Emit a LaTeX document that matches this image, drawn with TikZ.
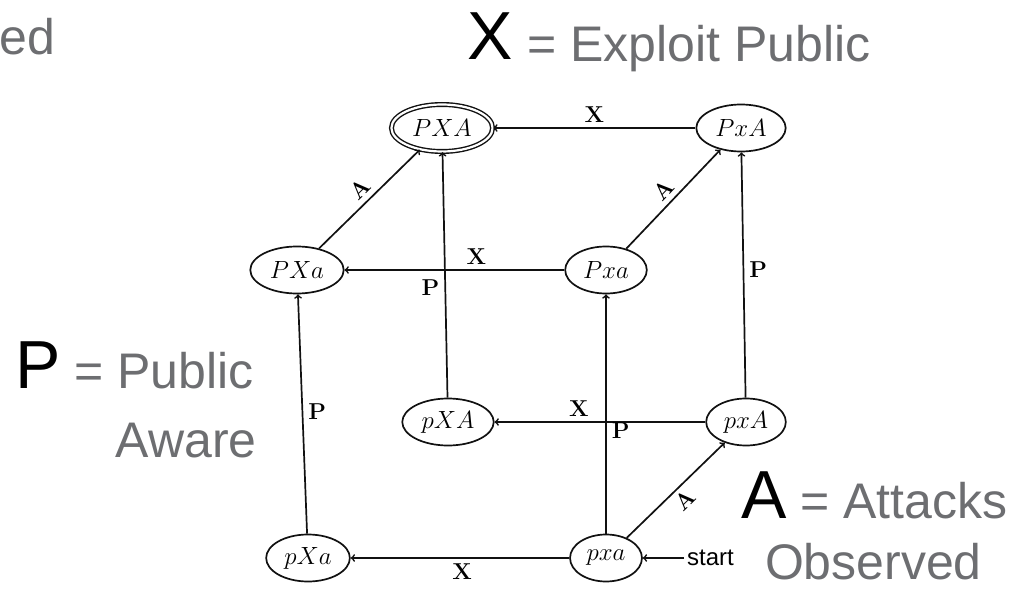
\documentclass[tikz,border=0pt]{standalone}
\usepackage{fontspec}
\usepackage{xcolor}
\usetikzlibrary{shapes.geometric}
\newfontfamily\legendfont{Liberation Sans}
\newcommand{\picwidth}{1027pt}
\newcommand{\picheight}{590pt}
\definecolor{legendgray}{HTML}{6D6E71}
\definecolor{legendkey}{HTML}{000000}
\definecolor{edgecolor}{HTML}{111111}

\tikzset{
  state/.style={ellipse, draw=edgecolor, line width=1.7pt, minimum height=47pt,
    inner xsep=6pt, font=\fontsize{25}{28}\selectfont},
  accept/.style={state, double, double distance=2.2pt, line width=1.4pt},
  trans/.style={->, draw=edgecolor, line width=1.7pt},
  translabel/.style={font=\bfseries\fontsize{23}{26}\selectfont, inner sep=5pt},
  keyletter/.style={inner sep=0pt, font=\legendfont\fontsize{68}{72}\selectfont\color{legendkey}},
  keytext/.style={inner sep=0pt, font=\legendfont\fontsize{50}{56}\selectfont\color{legendgray}}
}

\begin{document}
\begin{tikzpicture}
  \useasboundingbox (0,0) rectangle (\picwidth, \picheight);
  \fill[white] (0,0) rectangle (\picwidth, \picheight);

  % === LEGEND ===
  \node[keytext, anchor=base west] (cutoff) at (-1pt, 535pt) {ed};

  \node[keyletter, anchor=base west] (xkey) at (467pt, 530pt) {X};
  \node[keytext, anchor=base west] (xtext) at (527pt, 528pt) {= Exploit Public};

  \node[keyletter, anchor=base west] (pkey) at (15pt, 202pt) {P};
  \node[keytext, anchor=base west] (ptext) at (74pt, 202pt) {= Public};
  \node[keytext, anchor=base east] (paware) at (257pt, 133pt) {Aware};

  \node[keyletter, anchor=base west] (akey) at (741pt, 72pt) {A};
  \node[keytext, anchor=base west] (atext) at (800pt, 72pt) {= Attacks};
  \node[keytext, anchor=base east] (aobs) at (982pt, 11pt) {Observed};

  % === STATES ===
  \node[accept] (PXA) at (442pt, 462pt) {$PXA$};
  \node[state] (PxA) at (741pt, 462pt) {$PxA$};
  \node[state] (PXa) at (297pt, 320pt) {$PXa$};
  \node[state] (Pxa) at (606pt, 320pt) {$Pxa$};
  \node[state] (pXA) at (448pt, 168pt) {$pXA$};
  \node[state] (pxA) at (746pt, 168pt) {$pxA$};
  \node[state] (pXa) at (308pt, 32pt) {$pXa$};
  \node[state] (pxa) at (606pt, 32pt) {$pxa$};

  \node[anchor=west, inner sep=3pt, font=\legendfont\fontsize{24}{28}\selectfont]
    (start) at (684pt, 32pt) {start};

  % === TRANSITIONS ===
  \draw[trans] (start) -- (pxa);

  \draw[trans] (PxA) -- node[translabel, above] {X} (PXA);
  \draw[trans] (Pxa) -- node[translabel, above, pos=0.4] {X} (PXa);
  \draw[trans] (pxA) -- node[translabel, above, pos=0.6] {X} (pXA);
  \draw[trans] (pxa) -- node[translabel, below, pos=0.49] {X} (pXa);

  \draw[trans] (pXA) -- node[translabel, left, pos=0.45] {P} (PXA);
  \draw[trans] (pxA) -- node[translabel, right, pos=0.52] {P} (PxA);
  \draw[trans] (pxa) -- node[translabel, right, pos=0.43] {P} (Pxa);
  \draw[trans] (pXa) -- node[translabel, right, pos=0.51] {P} (PXa);

  \draw[trans] (PXa) -- node[translabel, sloped, above] {A} (PXA);
  \draw[trans] (Pxa) -- node[translabel, sloped, above] {A} (PxA);
  \draw[trans] (pxa) -- node[translabel, sloped, below] {A} (pxA);
\end{tikzpicture}
\end{document}
